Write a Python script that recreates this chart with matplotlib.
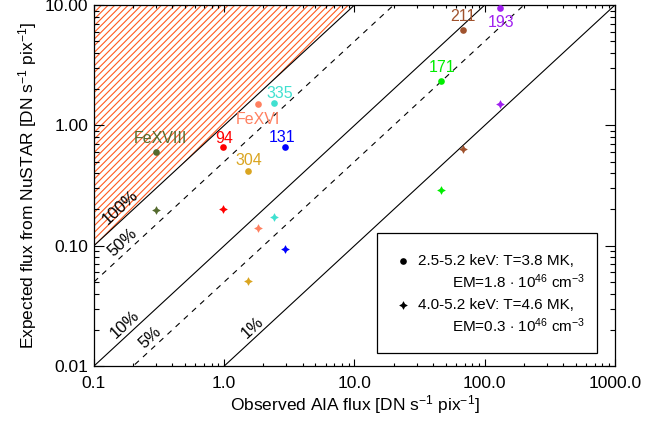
import numpy as np
import matplotlib
matplotlib.use("Agg")
import matplotlib.pyplot as plt
from matplotlib.patches import Rectangle

plt.rcParams['font.family'] = ['Liberation Sans', 'DejaVu Sans']
plt.rcParams['mathtext.fontset'] = 'custom'
plt.rcParams['mathtext.rm'] = 'Liberation Sans'
plt.rcParams['mathtext.it'] = 'Liberation Sans:italic'
plt.rcParams['hatch.linewidth'] = 0.8

# canaux AIA / raies
channels = ['FeXVIII', '94', '304', 'FeXVI', '335', '131', '171', '211', '193']
colors = ['#556B2F', '#FF0000', '#DAA520', '#FF8060', '#40E0D0', '#0000FF',
          '#00EE00', '#A0522D', '#A020F0']
aia_flux = [0.30, 0.97, 1.51, 1.82, 2.39, 2.91, 45.9, 68.0, 130.0]
# flux attendu NuSTAR, 2.5-5.2 keV (cercles) et 4.0-5.2 keV (etoiles)
nustar_low = [0.60, 0.66, 0.42, 1.50, 1.52, 0.66, 2.33, 6.2, 9.5]
nustar_high = [0.197, 0.202, 0.051, 0.141, 0.173, 0.094, 0.29, 0.64, 1.50]
# decalage de la ligne de base des etiquettes (pixels)
label_dy = [9.4, 4.5, 6.0, -20.0, 5.0, 4.8, 8.7, 9.3, -19.6]
label_dx = [4.0, 2.0, 1.0, 0.0, 6.0, -2.6, 1.0, 0.0, 1.0]

fractions = [1.0, 0.5, 0.1, 0.05, 0.01]
frac_styles = ['-', '--', '-', '--', '-']
frac_labels = ['100%', '50%', '10%', '5%', '1%']
frac_label_x = [0.158, 0.167, 0.173, 0.27, 1.64]
frac_label_y = [0.21, 0.106, 0.022, 0.0171, 0.0207]

xticks = [0.1, 1.0, 10.0, 100.0, 1000.0]
yticks = [0.01, 0.1, 1.0, 10.0]

star = (4, 1, 0)
px = 0.72  # points par pixel a 100 dpi

fig = plt.figure(figsize=(6.46, 4.21), dpi=100)
ax = fig.add_axes([0.1455, 0.1306, 0.8065, 0.8575])
ax.set_xscale('log')
ax.set_yscale('log')
ax.set_xlim(0.1, 1000)
ax.set_ylim(0.01, 10)

# zone hachuree au-dessus de 100%
xx = np.array([0.1, 10.0])
ax.fill_between(xx, xx, 10, facecolor='none', edgecolor='#FF5A1F',
                hatch='/////', linewidth=0, zorder=1)

xl = np.array([0.1, 1000.0])
for f, ls in zip(fractions, frac_styles):
    ax.plot(xl, f * xl, color='black', ls=ls, lw=0.8,
            dashes=(5, 5) if ls == '--' else (None, None), zorder=2)
for lab, lx, ly in zip(frac_labels, frac_label_x, frac_label_y):
    ax.text(lx, ly, lab, rotation=42.7, ha='center', va='center',
            fontsize=12, zorder=3)

for i in range(len(channels)):
    ax.plot(aia_flux[i], nustar_low[i], 'o', color=colors[i], ms=4.8,
            mec='none', zorder=4)
    ax.plot(aia_flux[i], nustar_high[i], marker=star, ls='none',
            color=colors[i], ms=6.3, mec='none', zorder=4)
    ax.annotate(channels[i], (aia_flux[i], nustar_low[i]),
                xytext=(label_dx[i] * px, label_dy[i] * px),
                textcoords='offset points', ha='center', va='baseline',
                color=colors[i], fontsize=11.5, zorder=5)

ax.set_xticks(xticks)
ax.set_xticklabels(['0.1', '1.0', '10.0', '100.0', '1000.0'])
ax.set_yticks(yticks)
ax.set_yticklabels(['0.01', '0.10', '1.00', '10.00'])
ax.tick_params(axis='x', which='major', direction='in', length=5, width=0.8,
               top=True, labelsize=12.5, pad=7)
ax.tick_params(axis='x', which='minor', direction='in', length=2.5, width=0.8,
               top=True)
ax.tick_params(axis='y', which='major', direction='in', length=7.5, width=0.8,
               right=True, labelsize=12.5, pad=4)
ax.tick_params(axis='y', which='minor', direction='in', length=3.7, width=0.8,
               right=True)
for s in ax.spines.values():
    s.set_linewidth(0.9)

ax.set_xlabel('Observed AIA flux [DN s$^{-1}$ pix$^{-1}$]', fontsize=12.5,
              labelpad=2)
ax.set_ylabel('Expected flux from NuSTAR [DN s$^{-1}$ pix$^{-1}$]',
              fontsize=12.5, labelpad=4)

# legende dessinee a la main
ax.add_patch(Rectangle((0.543, 0.036), 0.422, 0.332, transform=ax.transAxes,
                       facecolor='white', edgecolor='black', lw=0.9, zorder=6))
ax.plot(0.593, 0.290, 'o', color='black', ms=4.8, mec='none',
        transform=ax.transAxes, zorder=7)
ax.plot(0.593, 0.168, marker=star, color='black', ms=6.3, mec='none',
        transform=ax.transAxes, zorder=7)
ax.text(0.622, 0.290, '2.5-5.2 keV: T=3.8 MK,', transform=ax.transAxes,
        fontsize=11, va='center', ha='left', zorder=7)
ax.text(0.944, 0.233, r'EM=1.8 $\cdot$ 10$^{46}$ cm$^{-3}$',
        transform=ax.transAxes, fontsize=11, va='center', ha='right', zorder=7)
ax.text(0.622, 0.168, '4.0-5.2 keV: T=4.6 MK,', transform=ax.transAxes,
        fontsize=11, va='center', ha='left', zorder=7)
ax.text(0.944, 0.111, r'EM=0.3 $\cdot$ 10$^{46}$ cm$^{-3}$',
        transform=ax.transAxes, fontsize=11, va='center', ha='right', zorder=7)

fig.savefig('out.png', dpi=100)
